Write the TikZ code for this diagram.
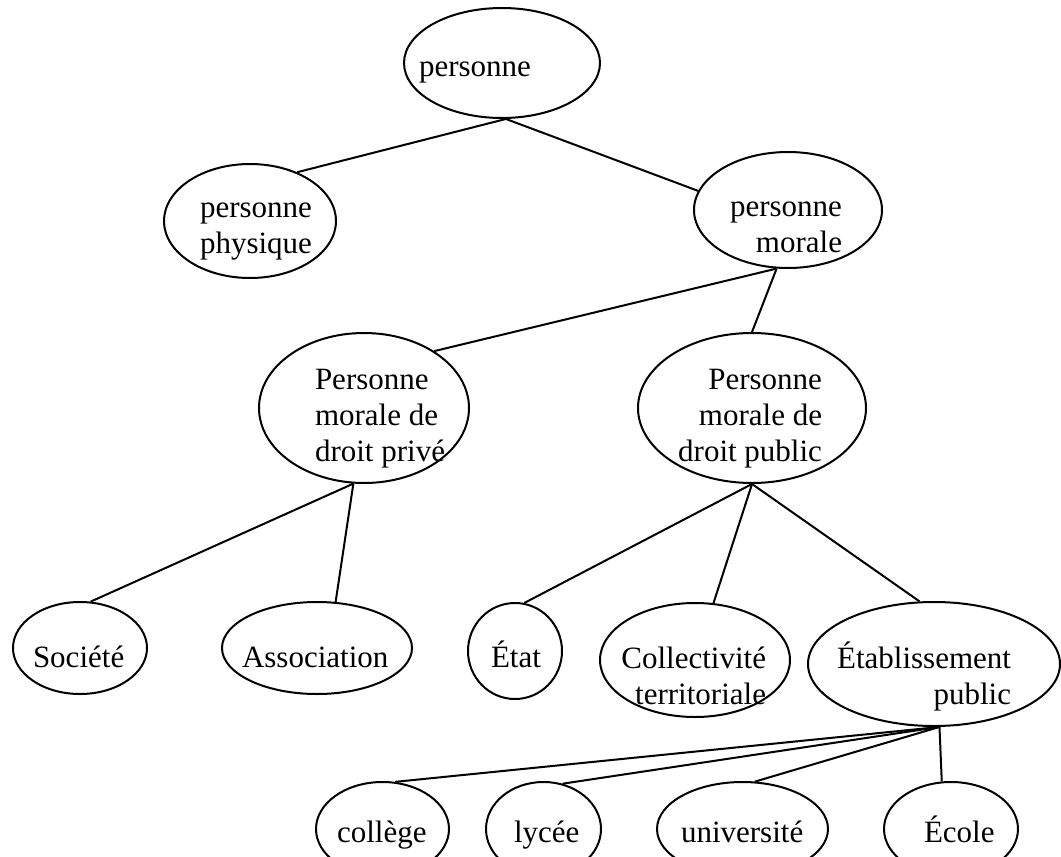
\documentclass[tikz,border=0pt]{standalone}
\usepackage{fontspec}
\setmainfont{Liberation Serif}
\usetikzlibrary{shapes.geometric}

\begin{document}
\begin{tikzpicture}[x=0.75pt, y=-0.75pt, line width=1.5pt,
    bulle/.style={ellipse, draw, inner sep=0pt},
    etiq/.style={inner sep=0pt, font=\fontsize{23.25pt}{27pt}\selectfont}]
  \clip (0,0) rectangle (1061,857);
  % ellipses
  \node[bulle, minimum width=147pt, minimum height=82.5pt] (pers) at (502,63) {};
  \node[bulle, minimum width=129pt, minimum height=85.5pt] (phys) at (250,221) {};
  \node[bulle, minimum width=141pt, minimum height=87pt] (mor) at (788,210) {};
  \node[bulle, minimum width=157.5pt, minimum height=112.5pt] (priv) at (364,408) {};
  \node[bulle, minimum width=171pt, minimum height=112.5pt] (pub) at (752,408) {};
  \node[bulle, minimum width=100.5pt, minimum height=69pt] (soc) at (80,648) {};
  \node[bulle, minimum width=142.5pt, minimum height=69pt] (assoc) at (317,648) {};
  \node[bulle, minimum width=70.5pt, minimum height=72pt] (etat) at (515,651) {};
  \node[bulle, minimum width=142.5pt, minimum height=85.5pt] (coll) at (695,660) {};
  \node[bulle, minimum width=189pt, minimum height=93pt] (etab) at (934,664) {};
  \node[bulle, minimum width=99.75pt, minimum height=70.5pt] (col) at (382.5,829) {};
  \node[bulle, minimum width=86.25pt, minimum height=70.5pt] (lyc) at (543.5,829) {};
  \node[bulle, minimum width=128.25pt, minimum height=70.5pt] (univ) at (742.5,829) {};
  \node[bulle, minimum width=100.5pt, minimum height=70.5pt] (ecole) at (951,829) {};
  % textes (base = ligne du bas)
  \node[etiq, anchor=base west] (t-pers) at (418,76) {personne};
  \node[etiq, anchor=base west, align=left] (t-phys) at (199,253) {personne\\physique};
  \node[etiq, anchor=base east, align=right] (t-mor) at (843,252) {personne\\morale};
  \node[etiq, anchor=base west, align=left] (t-priv) at (314,461) {Personne\\morale de\\droit privé};
  \node[etiq, anchor=base east, align=right] (t-pub) at (823,461) {Personne\\morale de\\droit public};
  \node[etiq, anchor=base west] (t-soc) at (32,667) {Société};
  \node[etiq, anchor=base west] (t-assoc) at (241,667) {Association};
  \node[etiq, anchor=base west] (t-etat) at (490,667) {État};
  \node[etiq, anchor=base east, align=right] (t-coll) at (767,704) {Collectivité\\territoriale};
  \node[etiq, anchor=base east, align=right] (t-etab) at (1012,704) {Établissement\\public};
  \node[etiq, anchor=base west] (t-col) at (336,842) {collège};
  \node[etiq, anchor=base west] (t-lyc) at (513,842) {lycée};
  \node[etiq, anchor=base west] (t-univ) at (680,842) {université};
  \node[etiq, anchor=base west] (t-ecole) at (923,842) {École};
  % liens
  \draw (pers.274) -- (phys.46);
  \draw (pers.274) -- (mor.168);
  \draw (mor.259) -- (priv.39);
  \draw (mor.259) -- (pub.north);
  \draw (priv.262) -- (soc.77);
  \draw (priv.262) -- (assoc.68);
  \draw (pub.south) -- (etat.79);
  \draw (pub.south) -- (coll.72);
  \draw (pub.south) -- (etab.103);
  \draw (etab.275) -- (col.75);
  \draw (etab.275) -- (lyc.67);
  \draw (etab.275) -- (univ.75);
  \draw (etab.275) -- (ecole.101);
\end{tikzpicture}
\end{document}
